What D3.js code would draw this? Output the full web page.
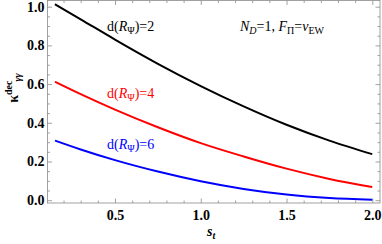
<!DOCTYPE html>
<html><head><meta charset="utf-8">
<script src="https://cdn.jsdelivr.net/npm/d3@7"></script>
<style>
body{margin:0;background:#fff}
svg{display:block}
text{font-family:"Liberation Serif","DejaVu Serif",serif}
</style>
</head><body>
<svg id="chart" width="382" height="244"></svg>
<script>
// values
const sVals   = [0.15, 0.3, 0.5, 0.75, 1.0, 1.25, 1.5, 1.75, 2.0];
const kappaD2 = [1.013, 0.935, 0.83, 0.705, 0.59, 0.485, 0.39, 0.308, 0.238];
const kappaD4 = [0.612, 0.548, 0.468, 0.377, 0.295, 0.226, 0.163, 0.11, 0.068];
const kappaD6 = [0.308, 0.262, 0.207, 0.148, 0.098, 0.058, 0.029, 0.011, 0.002];
const seriesNames = ["2", "4", "6"];
const xMajor = [0.5, 1.0, 1.5, 2.0];
const yMajor = [0.0, 0.2, 0.4, 0.6, 0.8, 1.0];

let svg = d3.select("#chart");
let padL = 47.5, padR = 380, padT = 0.5, padB = 203;

let x = d3.scaleLinear().domain([0.1065, 2.045]).range([padL, padR]);
let y = d3.scaleLinear().domain([-0.0145, 1.032]).range([padB, padT]);

let frameCol = "#8a8a8a";

// minor ticks
let xMinor = d3.range(2, 21).map(d => d / 10).filter(d => !xMajor.some(m => Math.abs(m - d) < 1e-6));
let yMinor = d3.range(0, 21).map(d => d / 20).filter(d => !yMajor.some(m => Math.abs(m - d) < 1e-6));

function styleAxis(g){
    g.select(".domain").remove();
    g.selectAll("line").attr("stroke", frameCol).attr("stroke-width", 0.8);
}

// bottom
svg.append("g").attr("transform", `translate(0,${padB})`)
    .call(d3.axisBottom(x).tickValues(xMinor).tickSize(-2.5).tickFormat(""))
    .call(styleAxis);
let bx = svg.append("g").attr("transform", `translate(0,${padB})`)
    .call(d3.axisBottom(x).tickValues(xMajor).tickSize(-4.5).tickPadding(7).tickFormat(d3.format(".1f")))
    .call(styleAxis);
// top
svg.append("g").attr("transform", `translate(0,${padT})`)
    .call(d3.axisTop(x).tickValues(xMinor).tickSize(-2.5).tickFormat(""))
    .call(styleAxis);
svg.append("g").attr("transform", `translate(0,${padT})`)
    .call(d3.axisTop(x).tickValues(xMajor).tickSize(-4.5).tickFormat(""))
    .call(styleAxis);
// left
svg.append("g").attr("transform", `translate(${padL},0)`)
    .call(d3.axisLeft(y).tickValues(yMinor).tickSize(-2.5).tickFormat(""))
    .call(styleAxis);
let ly = svg.append("g").attr("transform", `translate(${padL},0)`)
    .call(d3.axisLeft(y).tickValues(yMajor).tickSize(-4.5).tickPadding(3).tickFormat(d3.format(".1f")))
    .call(styleAxis);
// right
svg.append("g").attr("transform", `translate(${padR},0)`)
    .call(d3.axisRight(y).tickValues(yMinor).tickSize(-2.5).tickFormat(""))
    .call(styleAxis);
svg.append("g").attr("transform", `translate(${padR},0)`)
    .call(d3.axisRight(y).tickValues(yMajor).tickSize(-4.5).tickFormat(""))
    .call(styleAxis);

[bx, ly].forEach(g => g.selectAll("text")
    .attr("font-family", "'Liberation Serif', serif")
    .attr("font-weight", "bold")
    .attr("font-size", "14px")
    .attr("fill", "#000"));

// frame
svg.append("rect")
    .attr("x", padL).attr("y", padT)
    .attr("width", padR - padL).attr("height", padB - padT)
    .attr("fill", "none").attr("stroke", frameCol).attr("stroke-width", 0.8);

// curves
let colors = ["#000000", "#ff0000", "#0000ff"];
let allSeries = [kappaD2, kappaD4, kappaD6];
let line = d3.line().x(d => x(d[0])).y(d => y(d[1])).curve(d3.curveMonotoneX);

allSeries.forEach((vals, i) => {
    svg.append("path")
        .datum(sVals.map((s, j) => [s, vals[j]]))
        .attr("d", line)
        .attr("fill", "none")
        .attr("stroke", colors[i])
        .attr("stroke-width", 2);
});

// curve labels
let labelY = [30.5, 98, 148.5];
seriesNames.forEach((n, i) => {
    let t = svg.append("text")
        .attr("x", 107).attr("y", labelY[i])
        .attr("font-size", "14px")
        .attr("fill", colors[i]);
    t.append("tspan").text("d(");
    t.append("tspan").attr("font-style", "italic").text("R");
    t.append("tspan").attr("font-size", "10px").attr("dy", 3).text("Ψ");
    t.append("tspan").attr("dy", -3).text(")=" + n);
});

// parameters
let par = svg.append("text").attr("x", 240).attr("y", 30.5).attr("font-size", "14px");
par.append("tspan").attr("font-style", "italic").text("N");
par.append("tspan").attr("font-style", "italic").attr("font-size", "10px").attr("dy", 3).text("D");
par.append("tspan").attr("dy", -3).text("=1, ");
par.append("tspan").attr("font-style", "italic").text("F");
par.append("tspan").attr("font-size", "10px").attr("dy", 3).text("Π");
par.append("tspan").attr("dy", -3).text("=");
par.append("tspan").attr("font-style", "italic").text("v");
par.append("tspan").attr("font-size", "10px").attr("dy", 3).text("EW");

// axis titles
let xt = svg.append("text").attr("x", 207).attr("y", 236)
    .attr("font-size", "14px").attr("font-weight", "bold");
xt.append("tspan").attr("font-style", "italic").text("s");
xt.append("tspan").attr("font-style", "italic").attr("font-size", "10px").attr("dy", 3).text("t");

let yt = svg.append("text")
    .attr("transform", "translate(18,88) rotate(-90)")
    .attr("text-anchor", "middle")
    .attr("font-size", "14px").attr("font-weight", "bold");
yt.append("tspan").text("κ");
yt.append("tspan").attr("font-size", "10px").attr("dy", -6).text("dec");
yt.append("tspan").attr("font-size", "10px").attr("font-style", "italic")
    .attr("dx", -1).attr("dy", 9).text("γγ");
</script>
</body></html>
